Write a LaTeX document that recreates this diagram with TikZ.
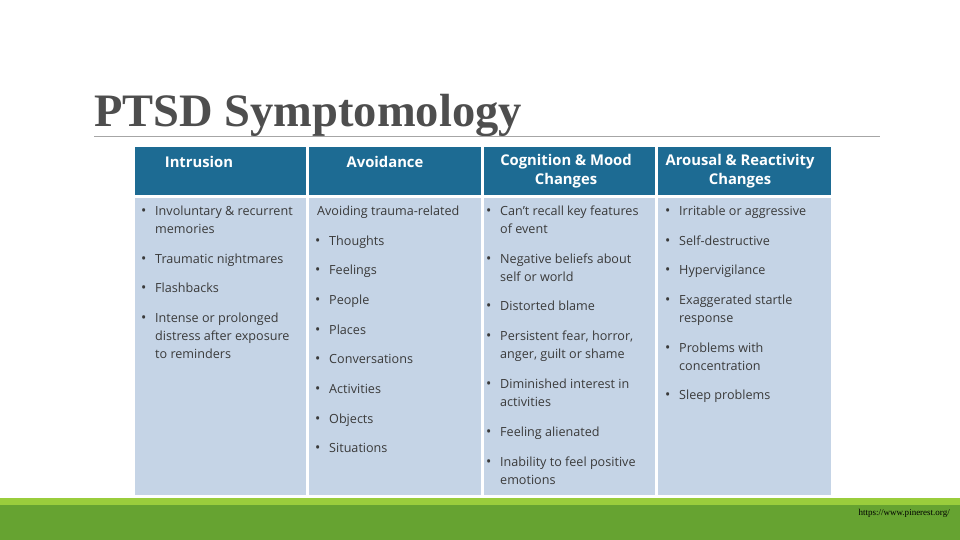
\documentclass[tikz,border=0pt]{standalone}
\usepackage{fontspec}
\setmainfont{Liberation Serif}
\newfontfamily\bodyf{Open Sans}
\definecolor{hdr}{HTML}{1D6B93}
\definecolor{bod}{HTML}{C5D4E6}
\definecolor{grn}{HTML}{66A331}
\definecolor{lgrn}{HTML}{9ACD3C}
\definecolor{txt}{HTML}{3A3A3A}
\begin{document}
\begin{tikzpicture}[x=1pt,y=-1pt,
  ln/.style={anchor=base west,inner sep=0,font=\bodyf\fontsize{12.6}{14}\selectfont,text=txt},
  hd/.style={align=center,inner sep=0,font=\bodyf\bfseries\fontsize{14.8}{18.5}\selectfont,text=white},
  bl/.style={anchor=base west,inner sep=0,font=\bodyf\fontsize{14}{14}\selectfont,text=txt}]
\useasboundingbox (0,0) rectangle (960,540);
\fill[white] (0,0) rectangle (960,540);
\node[anchor=base west,inner sep=0,font=\fontsize{46.5}{50}\selectfont\bfseries,text=txt!90] (title) at (94,127) {PTSD Symptomology};
\draw[gray!70,line width=0.8pt] (94,136.5) -- (880,136.5);
% columns
\foreach \a/\b/\n in {135/306/1,309/481/2,484/655/3,658/831/4}{
  \fill[hdr] (\a,147) rectangle (\b,195);
  \fill[bod] (\a,198) rectangle (\b,495);
}
\node[hd] (h1) at (199,162) {Intrusion};
\node[hd] (h2) at (385,162) {Avoidance};
\node[hd] (h3) at (566,171) {Cognition \& Mood\\Changes};
\node[hd] (h4) at (740,171) {Arousal \& Reactivity\\Changes};
% column 1
\foreach \y/\t in {215/Involuntary \& recurrent,233/memories,263/Traumatic nightmares,292/Flashbacks,322/Intense or prolonged,340/distress after exposure,358/to reminders}
  \node[ln] at (155,\y) {\t};
\foreach \y in {215,263,292,322} \node[bl] at (141,\y) {•};
% column 2
\node[ln] (av) at (317,215) {Avoiding trauma-related};
\foreach \y/\t in {245/Thoughts,274/Feelings,304/People,334/Places,363/Conversations,393/Activities,423/Objects,452/Situations}{
  \node[ln] at (329,\y) {\t};
  \node[bl] at (315,\y) {•};
}
% column 3
\foreach \y/\t in {215/Can’t recall key features,233/of event,263/Negative beliefs about,281/self or world,310/Distorted blame,340/{Persistent fear, horror,},358/{anger, guilt or shame},388/Diminished interest in,406/activities,436/Feeling alienated,466/Inability to feel positive,484/emotions}
  \node[ln] at (500,\y) {\t};
\foreach \y in {215,263,310,340,388,436,466} \node[bl] at (486,\y) {•};
% column 4
\foreach \y/\t in {215/Irritable or aggressive,245/Self-destructive,274/Hypervigilance,304/Exaggerated startle,322/response,352/Problems with,370/concentration,399/Sleep problems}
  \node[ln] at (679,\y) {\t};
\foreach \y in {215,245,274,304,352,399} \node[bl] at (665,\y) {•};
% footer
\fill[lgrn] (0,498) rectangle (960,505);
\fill[grn] (0,505) rectangle (960,540);
\node[anchor=base east,inner sep=0,font=\fontsize{9}{10}\selectfont] (src) at (950,515) {https://www.pinerest.org/};
\end{tikzpicture}
\end{document}
